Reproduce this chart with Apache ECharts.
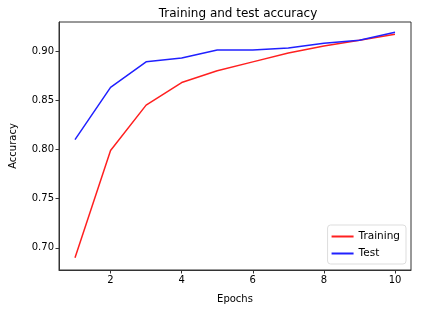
<!DOCTYPE html>
<html><head><meta charset="utf-8">
<script src="https://cdn.jsdelivr.net/npm/echarts@6/dist/echarts.min.js"></script>
<style>html,body{margin:0;padding:0;background:#fff}#c{width:437px;height:313px}</style>
</head><body><div id="c"></div>
<script>
const epochs = [1,2,3,4,5,6,7,8,9,10];
const training = [0.690,0.799,0.845,0.868,0.880,0.889,0.898,0.905,0.911,0.917];
const test = [0.810,0.863,0.889,0.893,0.901,0.901,0.903,0.908,0.911,0.919];
const xTicks = [2,4,6,8,10];
const yTicks = [0.70,0.75,0.80,0.85,0.90];

const font = 'DejaVu Sans';
const chart = echarts.init(document.getElementById('c'));
chart.setOption({
  animation:false,
  title:{text:'Training and test accuracy',left:233,top:3,textAlign:'center',
    textStyle:{fontFamily:font,fontSize:12,fontWeight:'normal',color:'#000'}},
  grid:{left:56,right:26,top:22,bottom:43,show:true,borderColor:'#333',borderWidth:1},
  legend:{orient:'vertical',right:31,bottom:49,itemWidth:22,itemHeight:2,icon:'rect',itemGap:6,
    backgroundColor:'#fff',borderColor:'#ddd',borderWidth:1,borderRadius:3,padding:[6,6,5,4],
    textStyle:{fontFamily:font,fontSize:10.5,color:'#000'},data:['Training','Test']},
  xAxis:{type:'value',min:0.55,max:10.45,name:'Epochs',nameLocation:'middle',nameGap:24,
    nameTextStyle:{fontFamily:font,fontSize:10,color:'#000'},
    axisLine:{show:true,lineStyle:{color:'#333'}},
    axisTick:{show:true,customValues:xTicks,length:3.5,lineStyle:{color:'#333'}},
    axisLabel:{customValues:xTicks,fontFamily:font,fontSize:10,color:'#000',margin:5},
    splitLine:{show:false}},
  yAxis:{type:'value',min:0.6775,max:0.9295,name:'Accuracy',nameLocation:'middle',nameGap:41,
    nameTextStyle:{fontFamily:font,fontSize:10,color:'#000'},
    axisLine:{show:true,lineStyle:{color:'#333'}},
    axisTick:{show:true,customValues:yTicks,length:3.5,lineStyle:{color:'#333'}},
    axisLabel:{customValues:yTicks,fontFamily:font,fontSize:10,color:'#000',margin:5,formatter:v=>v.toFixed(2)},
    splitLine:{show:false}},
  series:[
    {name:'Training',type:'line',data:epochs.map((e,i)=>[e,training[i]]),symbol:'none',
      lineStyle:{color:'#ff2020',width:1.5},itemStyle:{color:'#ff2020'}},
    {name:'Test',type:'line',data:epochs.map((e,i)=>[e,test[i]]),symbol:'none',
      lineStyle:{color:'#2020ff',width:1.5},itemStyle:{color:'#2020ff'}}
  ]
});
</script></body></html>
